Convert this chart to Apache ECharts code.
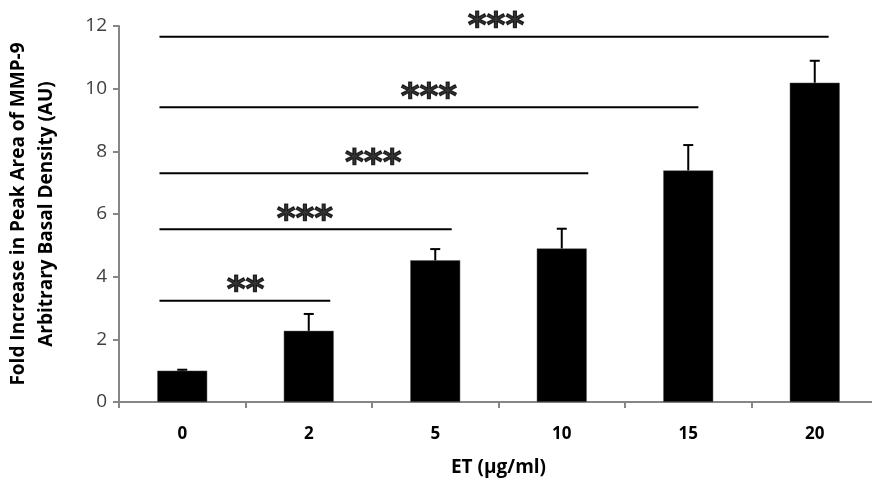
<!DOCTYPE html>
<html><head><meta charset="utf-8">
<script src="https://cdn.jsdelivr.net/npm/echarts@6/dist/echarts.min.js"></script>
<style>html,body{margin:0;padding:0;background:#fff}#c{width:872px;height:484px}</style>
</head><body><div id="c"></div>
<script>
var categories = ['0', '2', '5', '10', '15', '20'];
var meanValues = [1.0, 2.27, 4.52, 4.9, 7.39, 10.19];
var errorValues = [0.03, 0.54, 0.36, 0.63, 0.81, 0.7];
var yTicks = [0, 2, 4, 6, 8, 10, 12];
// significance brackets (x in category units on a 0..6 scale, y in data units)
var sigStart = [0.32, 0.32, 0.32, 0.32, 0.32];
var sigEnd = [1.67, 2.63, 3.71, 4.58, 5.61];
var sigLevel = [3.23, 5.51, 7.3, 9.41, 11.66];
var sigText = ['**', '***', '***', '***', '***'];
var sigTextX = [1.0, 1.47, 2.01, 2.45, 2.98];

var chart = echarts.init(document.getElementById('c'));
var fontFam = '"Open Sans", "Noto Sans", sans-serif';

var sigSeries = [];
for (var i = 0; i < sigLevel.length; i++) {
  sigSeries.push({
    type: 'line', xAxisIndex: 1, yAxisIndex: 0, silent: true,
    symbol: 'none', lineStyle: {color: '#000', width: 2},
    data: [[sigStart[i], sigLevel[i]], [sigEnd[i], sigLevel[i]]],
    z: 5
  });
}
var starData = sigText.map(function (t, i) { return {value: [sigTextX[i], sigLevel[i]], name: t}; });

chart.setOption({
  animation: false,
  grid: {left: 119, top: 26, width: 759, height: 376, outerBoundsMode: 'none', containLabel: false},
  xAxis: [{
    type: 'category', data: categories,
    axisLine: {lineStyle: {color: '#868686', width: 2}},
    axisTick: {show: true, length: 6, alignWithLabel: false, lineStyle: {color: '#868686', width: 2}},
    axisLabel: {color: '#000', fontWeight: 'bold', fontSize: 17, margin: 24, fontFamily: fontFam},
    name: 'ET (µg/ml)', nameLocation: 'middle', nameGap: 56,
    nameTextStyle: {color: '#000', fontWeight: 'bold', fontSize: 19, fontFamily: fontFam}
  }, {
    type: 'value', min: 0, max: 6, show: false
  }],
  yAxis: [{
    type: 'value', min: 0, max: 12, interval: 2,
    axisLine: {show: true, lineStyle: {color: '#868686', width: 2}},
    axisTick: {show: true, length: 6, lineStyle: {color: '#868686', width: 2}},
    splitLine: {show: false},
    axisLabel: {color: '#404040', fontSize: 19, margin: 12, fontFamily: fontFam,
      formatter: function (v) { return yTicks.indexOf(v) >= 0 ? String(v) : ''; }},
    name: 'Fold Increase in Peak Area of MMP-9\nArbitrary Basal Density (AU)',
    nameLocation: 'middle', nameRotate: 90, nameGap: 58,
    nameTextStyle: {color: '#000', fontWeight: 'bold', fontSize: 19, lineHeight: 28, fontFamily: fontFam}
  }],
  series: [{
    type: 'bar', data: meanValues, barWidth: '39.5%',
    itemStyle: {color: '#000', borderColor: '#555', borderWidth: 0.5}, z: 2
  }, {
    type: 'custom', z: 3,
    data: meanValues.map(function (m, i) { return [i, m, m + errorValues[i]]; }),
    renderItem: function (params, api) {
      var base = api.coord([api.value(0), api.value(1)]);
      var top = api.coord([api.value(0), api.value(2)]);
      var x = base[0];
      return {type: 'group', children: [
        {type: 'line', shape: {x1: x, y1: base[1], x2: x, y2: top[1]}, style: {stroke: '#000', lineWidth: 2}},
        {type: 'line', shape: {x1: x - 5, y1: top[1], x2: x + 5, y2: top[1]}, style: {stroke: '#000', lineWidth: 2}}
      ]};
    }
  }].concat(sigSeries).concat([{
    type: 'scatter', xAxisIndex: 1, yAxisIndex: 0, symbolSize: 0, silent: true,
    data: starData,
    label: {show: true, position: 'top', distance: -9, formatter: function (p) { return p.name; },
      color: '#000', fontSize: 36, fontWeight: 'bold', fontFamily: '"DejaVu Sans", sans-serif',
      textBorderColor: '#000', textBorderWidth: 1.2}
  }])
});
</script></body></html>
